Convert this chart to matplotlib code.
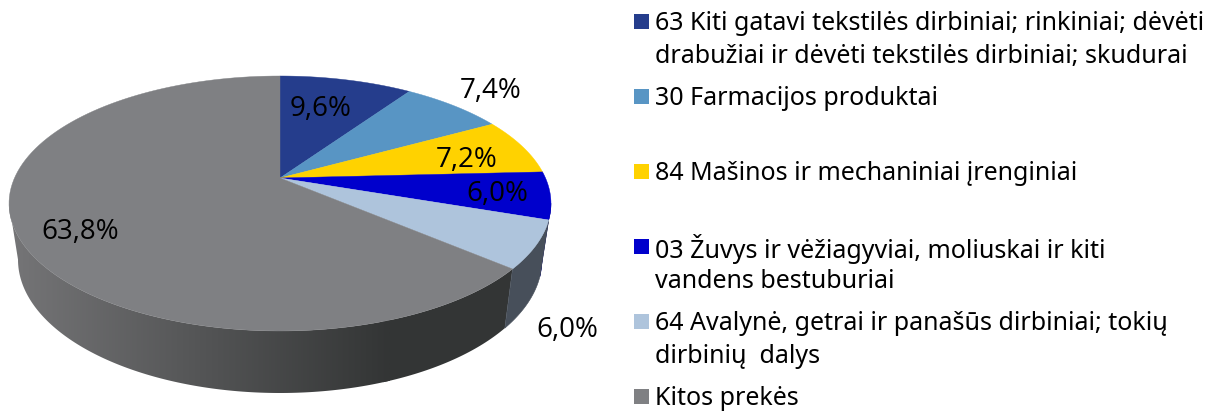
import numpy as np
from matplotlib import pyplot as plt
from matplotlib.colors import to_rgb
from matplotlib.patches import Polygon

# slices, clockwise from 12 o'clock
values = [9.6, 7.4, 7.2, 6.0, 6.0, 63.8]
pct_labels = ['9,6%', '7,4%', '7,2%', '6,0%', '6,0%', '63,8%']
colors = ['#253D8C', '#5895C4', '#FFD200', '#0000CC', '#AEC4DC', '#7F8083']
legend_lines = [
    ['63 Kiti gatavi tekstilės dirbiniai; rinkiniai; dėvėti',
     'drabužiai ir dėvėti tekstilės dirbiniai; skudurai'],
    ['30 Farmacijos produktai'],
    ['84 Mašinos ir mechaniniai įrenginiai'],
    ['03 Žuvys ir vėžiagyviai, moliuskai ir kiti',
     'vandens bestuburiai'],
    ['64 Avalynė, getrai ir panašūs dirbiniai; tokių',
     'dirbinių  dalys'],
    ['Kitos prekės'],
]
# where the labels sit, in px
label_pos = [(321, 109), (491, 91), (467, 160), (497, 194), (567, 330), (80, 232)]
legend_y = [21.5, 96.5, 171.5, 246.8, 321.8, 396.8]
line_gap = 33

# projected ellipse of the pie
CX, CY = 280, 178
A, B, K = 265.5, 122.4, 0.2
A2, B2, CY2 = 256.7, 128, 233
# rim angles where the silhouette of the side wall leaves the top face
RIGHT_TANGENT = np.radians(101.5)
LEFT_TANGENT = np.radians(258.5)


def top_ring(a):
    w = 1 + K * np.cos(a)
    return CX + A * np.sin(a) / w, CY - B * np.cos(a) / w


def bottom_ring(a):
    w = 1 + K * np.cos(a)
    return CX + A2 * np.sin(a) / w, CY2 - B2 * np.cos(a) / w


def wall_xy(a0, a1):
    arc = np.linspace(a0, a1, 160)
    xt, yt = top_ring(arc)
    xb, yb = bottom_ring(arc)
    return np.r_[xt, xb[::-1]], np.r_[yt, yb[::-1]]


fig = plt.figure(figsize=(12.2, 4.12), dpi=100)
ax = fig.add_axes([0, 0, 1, 1])

edges = np.radians(np.concatenate([[0], np.cumsum(values)]) * 3.6)

# side wall of the last slice, shaded left to right
shade = np.linspace(0, 1, 256)
c0, c1 = np.array(to_rgb('#767678')), np.array(to_rgb('#333535'))
grad = (c0[None, :] * (1 - shade[:, None]) + c1[None, :] * shade[:, None])[None, :, :]
im = ax.imshow(grad, extent=(5, 390, 412, 0), aspect='auto', interpolation='bilinear', zorder=1)
x, y = wall_xy(edges[5], LEFT_TANGENT)
im.set_clip_path(Polygon(np.c_[x, y], closed=True, transform=ax.transData))
ax.fill(x[x > 380], y[x > 380], color='#333535', lw=0, zorder=0.9)

# light blue slice wall, then the thin blue sliver behind it
x, y = wall_xy(edges[4], edges[5])
ax.fill(x, y, color='#474F5A', lw=0.4, zorder=1.5)
x, y = wall_xy(RIGHT_TANGENT, edges[4])
ax.fill(x, y, color='#00006A', lw=0.3, zorder=1.4)

# top face
for i, c in enumerate(colors):
    arc = np.linspace(edges[i], edges[i + 1], 120)
    x, y = top_ring(arc)
    ax.fill(np.r_[CX, x], np.r_[CY, y], color=c, lw=0.3, zorder=2)

for txt, (x, y) in zip(pct_labels, label_pos):
    ax.text(x, y, txt, ha='center', va='center', fontsize=20, family='Open Sans',
            color='black', zorder=3)

for lines, y, c in zip(legend_lines, legend_y, colors):
    ax.fill([634, 649.3, 649.3, 634], [y - 7.5, y - 7.5, y + 7.5, y + 7.5], color=c, lw=0)
    for j, line in enumerate(lines):
        ax.text(655, y + 2 + j * line_gap, line, ha='left', va='center', fontsize=18,
                family='Noto Sans', color='black')

ax.set_xlim(0, 1220)
ax.set_ylim(412, 0)
ax.axis('off')

fig.savefig('out.png', dpi=100)
